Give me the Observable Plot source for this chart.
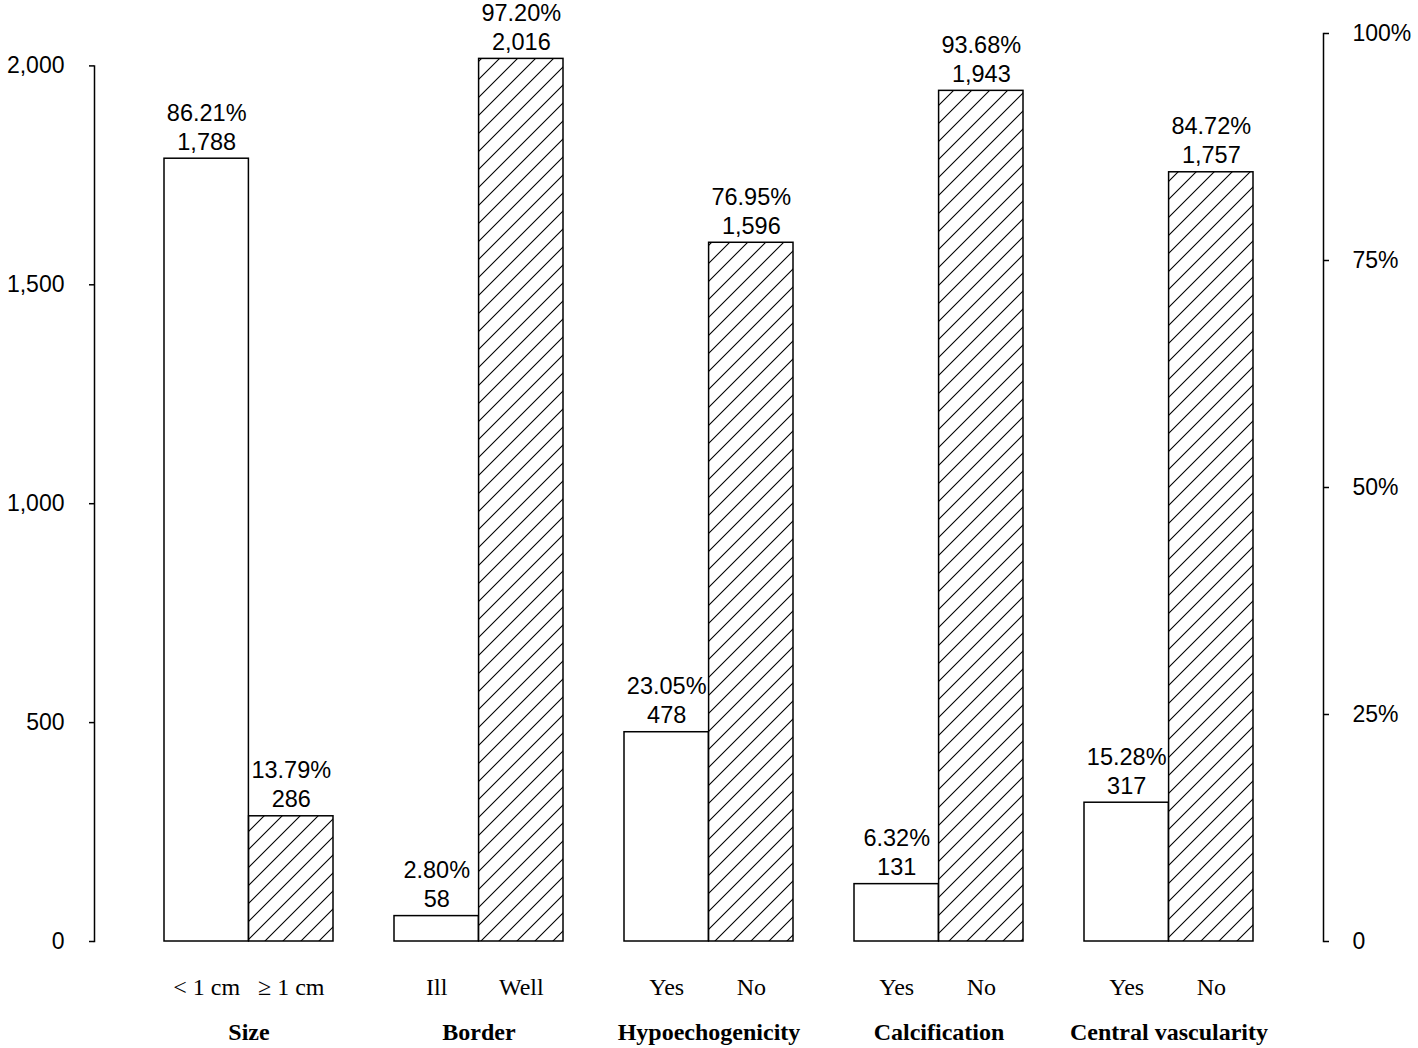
<!DOCTYPE html>
<html><head><meta charset="utf-8">
<script src="https://cdn.jsdelivr.net/npm/d3@7"></script>
<script src="https://cdn.jsdelivr.net/npm/@observablehq/plot@0.6"></script>
<style>body{margin:0;background:#fff}</style>
</head><body><div id="chart"></div>
<script>
// ---- data ----
const groups  = ["Size", "Border", "Hypoechogenicity", "Calcification", "Central vascularity"];
const labelsA = ["< 1 cm", "Ill", "Yes", "Yes", "Yes"];
const labelsB = ["\u2265 1 cm", "Well", "No", "No", "No"];
const countsA = [1788, 58, 478, 131, 317];
const countsB = [286, 2016, 1596, 1943, 1757];
const pctA = ["86.21%", "2.80%", "23.05%", "6.32%", "15.28%"];
const pctB = ["13.79%", "97.20%", "76.95%", "93.68%", "84.72%"];
const total = 2074;
const countTicks = [0, 500, 1000, 1500, 2000];
const pctTicks = [0, 25, 50, 75, 100];

// ---- layout ----
const W = 1418, H = 1048, mL = 94, mR = 95, mT = 33, mB = 107;
const plotH = H - mT - mB;
const half = 84.6;
const sans = "'Liberation Sans', Arial, sans-serif";
const serif = "'Liberation Serif', 'Times New Roman', serif";
const fmt = d3.format(",");

const rowsA = groups.map((g, i) => ({group: g, count: countsA[i], pct: pctA[i], label: labelsA[i]}));
const rowsB = groups.map((g, i) => ({group: g, count: countsB[i], pct: pctB[i], label: labelsB[i]}));

function hatchDefs() {
  const s = 18;
  const defs = d3.create("svg:defs");
  const p = defs.append("pattern").attr("id", "hatch")
    .attr("patternUnits", "userSpaceOnUse").attr("width", s).attr("height", s);
  p.append("rect").attr("width", s).attr("height", s).attr("fill", "white");
  p.append("path").attr("d", `M-2,2 L2,-2 M0,${s} L${s},0 M${s - 2},${s + 2} L${s + 2},${s - 2}`)
    .attr("stroke", "black").attr("stroke-width", 1.1);
  return defs.node();
}

const chart = Plot.plot({
  width: W, height: H,
  marginLeft: mL, marginRight: mR, marginTop: mT, marginBottom: mB,
  style: {fontFamily: sans, fontSize: "23px", color: "#000", background: "#fff"},
  x: {domain: groups, paddingInner: 0.265, paddingOuter: 0.302, axis: null},
  y: {domain: [0, total], axis: null},
  marks: [
    hatchDefs,
    Plot.barY(rowsA, {x: "group", y: "count", insetRight: half, fill: "white", stroke: "black", strokeWidth: 1.5}),
    Plot.barY(rowsB, {x: "group", y: "count", insetLeft: half, fill: "url(#hatch)", stroke: "black", strokeWidth: 1.5}),
    Plot.text(rowsA, {x: "group", y: "count", dx: -half / 2, dy: -9, lineAnchor: "bottom", lineHeight: 1.24,
      text: d => d.pct + "\n" + fmt(d.count), fill: "black", fontFamily: sans, fontSize: 23.5}),
    Plot.text(rowsB, {x: "group", y: "count", dx: half / 2, dy: -9, lineAnchor: "bottom", lineHeight: 1.24,
      text: d => d.pct + "\n" + fmt(d.count), fill: "black", fontFamily: sans, fontSize: 23.5}),
    Plot.text(rowsA, {x: "group", text: "label", frameAnchor: "bottom", dx: -half / 2, dy: 53,
      fill: "black", fontFamily: serif, fontSize: 24}),
    Plot.text(rowsB, {x: "group", text: "label", frameAnchor: "bottom", dx: half / 2, dy: 53,
      fill: "black", fontFamily: serif, fontSize: 24}),
    Plot.axisX({tickSize: 0, tickPadding: 81, label: null, fontFamily: serif, fontWeight: "bold", fontSize: 24, fill: "black"}),
    Plot.axisY(countTicks, {anchor: "left", tickFormat: d3.format(","), tickSize: 5, tickPadding: 25, label: null,
      strokeWidth: 1.5, fill: "black", fontSize: 23}),
    Plot.axisY(pctTicks.map(p => total * p / 100), {anchor: "right", tickSize: 5, tickPadding: 24, label: null,
      tickFormat: d => { const p = Math.round(d / total * 100); return p === 0 ? "0" : p + "%"; },
      strokeWidth: 1.5, fill: "black", fontSize: 23}),
    Plot.frame({anchor: "left", insetTop: plotH * (1 - countTicks[countTicks.length - 1] / total), stroke: "black", strokeWidth: 1.5}),
    Plot.frame({anchor: "right", stroke: "black", strokeWidth: 1.5})
  ]
});
document.getElementById("chart").appendChild(chart);
</script>
</body></html>
